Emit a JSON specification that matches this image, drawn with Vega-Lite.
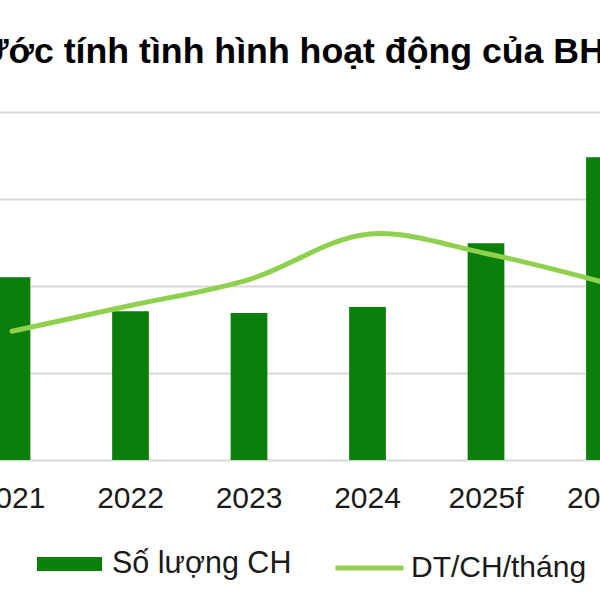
{
  "$schema": "https://vega.github.io/schema/vega-lite/v6.json",
  "width": 600,
  "height": 348,
  "autosize": {"type": "none"},
  "padding": {"left": 0, "right": 0, "top": 112, "bottom": 140},
  "background": "white",
  "title": {
    "text": "Ước tính tình hình hoạt động của BHX",
    "anchor": "start",
    "frame": "group",
    "dx": -21,
    "dy": 37,
    "offset": 50,
    "baseline": "alphabetic",
    "fontSize": 35.7,
    "font": "Liberation Sans",
    "fontWeight": "bold",
    "color": "#000000"
  },
  "data": {
    "values": [
      {"year": "2021", "stores": 2100, "rev": 740},
      {"year": "2022", "stores": 1710, "rev": 888},
      {"year": "2023", "stores": 1690, "rev": 1037},
      {"year": "2024", "stores": 1760, "rev": 1298},
      {"year": "2025f", "stores": 2490, "rev": 1187},
      {"year": "2026f", "stores": 3480, "rev": 1020}
    ]
  },
  "encoding": {
    "x": {
      "field": "year",
      "type": "ordinal",
      "sort": null,
      "scale": {"type": "band", "range": [-47.25, 663.75], "paddingInner": 0.69, "paddingOuter": 0.345},
      "axis": {
        "title": null,
        "domain": false,
        "ticks": false,
        "tickSize": 0,
        "labelAngle": 0,
        "labelBaseline": "alphabetic",
        "labelPadding": 47,
        "labelFontSize": 30,
        "labelFont": "Liberation Sans",
        "labelColor": "#1a1a1a",
        "labelOverlap": false,
        "grid": false
      }
    }
  },
  "layer": [
    {
      "mark": {"type": "bar", "color": "#0a800a"},
      "encoding": {
        "y": {
          "field": "stores",
          "type": "quantitative",
          "scale": {"domain": [0, 4000], "nice": false},
          "axis": {
            "title": null,
            "values": [0, 1000, 2000, 3000, 4000],
            "labels": false,
            "ticks": false,
            "domain": false,
            "grid": true,
            "gridColor": "#d9d9d9",
            "gridWidth": 2
          }
        },
        "fill": {
          "datum": "Số lượng CH",
          "scale": {"range": ["#0a800a"]},
          "legend": {
            "orient": "none",
            "legendX": 37,
            "legendY": 419.5,
            "title": null,
            "padding": 0,
            "symbolType": "M-1,-0.215H1V0.215H-1Z",
            "symbolSize": 4225,
            "symbolStrokeWidth": 0,
            "labelOffset": 10,
            "labelLimit": 400,
            "labelFontSize": 30.5,
            "labelFont": "Liberation Sans",
            "labelColor": "#1a1a1a"
          }
        }
      }
    },
    {
      "mark": {"type": "line", "interpolate": "catmull-rom", "strokeWidth": 5, "strokeCap": "round"},
      "encoding": {
        "y": {
          "field": "rev",
          "type": "quantitative",
          "scale": {"domain": [0, 2000], "nice": false},
          "axis": null
        },
        "stroke": {
          "datum": "DT/CH/tháng",
          "scale": {"range": ["#8fd14f"]},
          "legend": {
            "orient": "none",
            "legendX": 333,
            "legendY": 419.5,
            "title": null,
            "padding": 0,
            "symbolType": "M-1,0H1",
            "symbolSize": 4624,
            "symbolStrokeWidth": 5,
            "labelOffset": 5,
            "labelLimit": 400,
            "labelFontSize": 30,
            "labelFont": "Liberation Sans",
            "labelColor": "#1a1a1a"
          }
        }
      }
    }
  ],
  "resolve": {"scale": {"y": "independent"}},
  "config": {
    "view": {"stroke": null}
  }
}
